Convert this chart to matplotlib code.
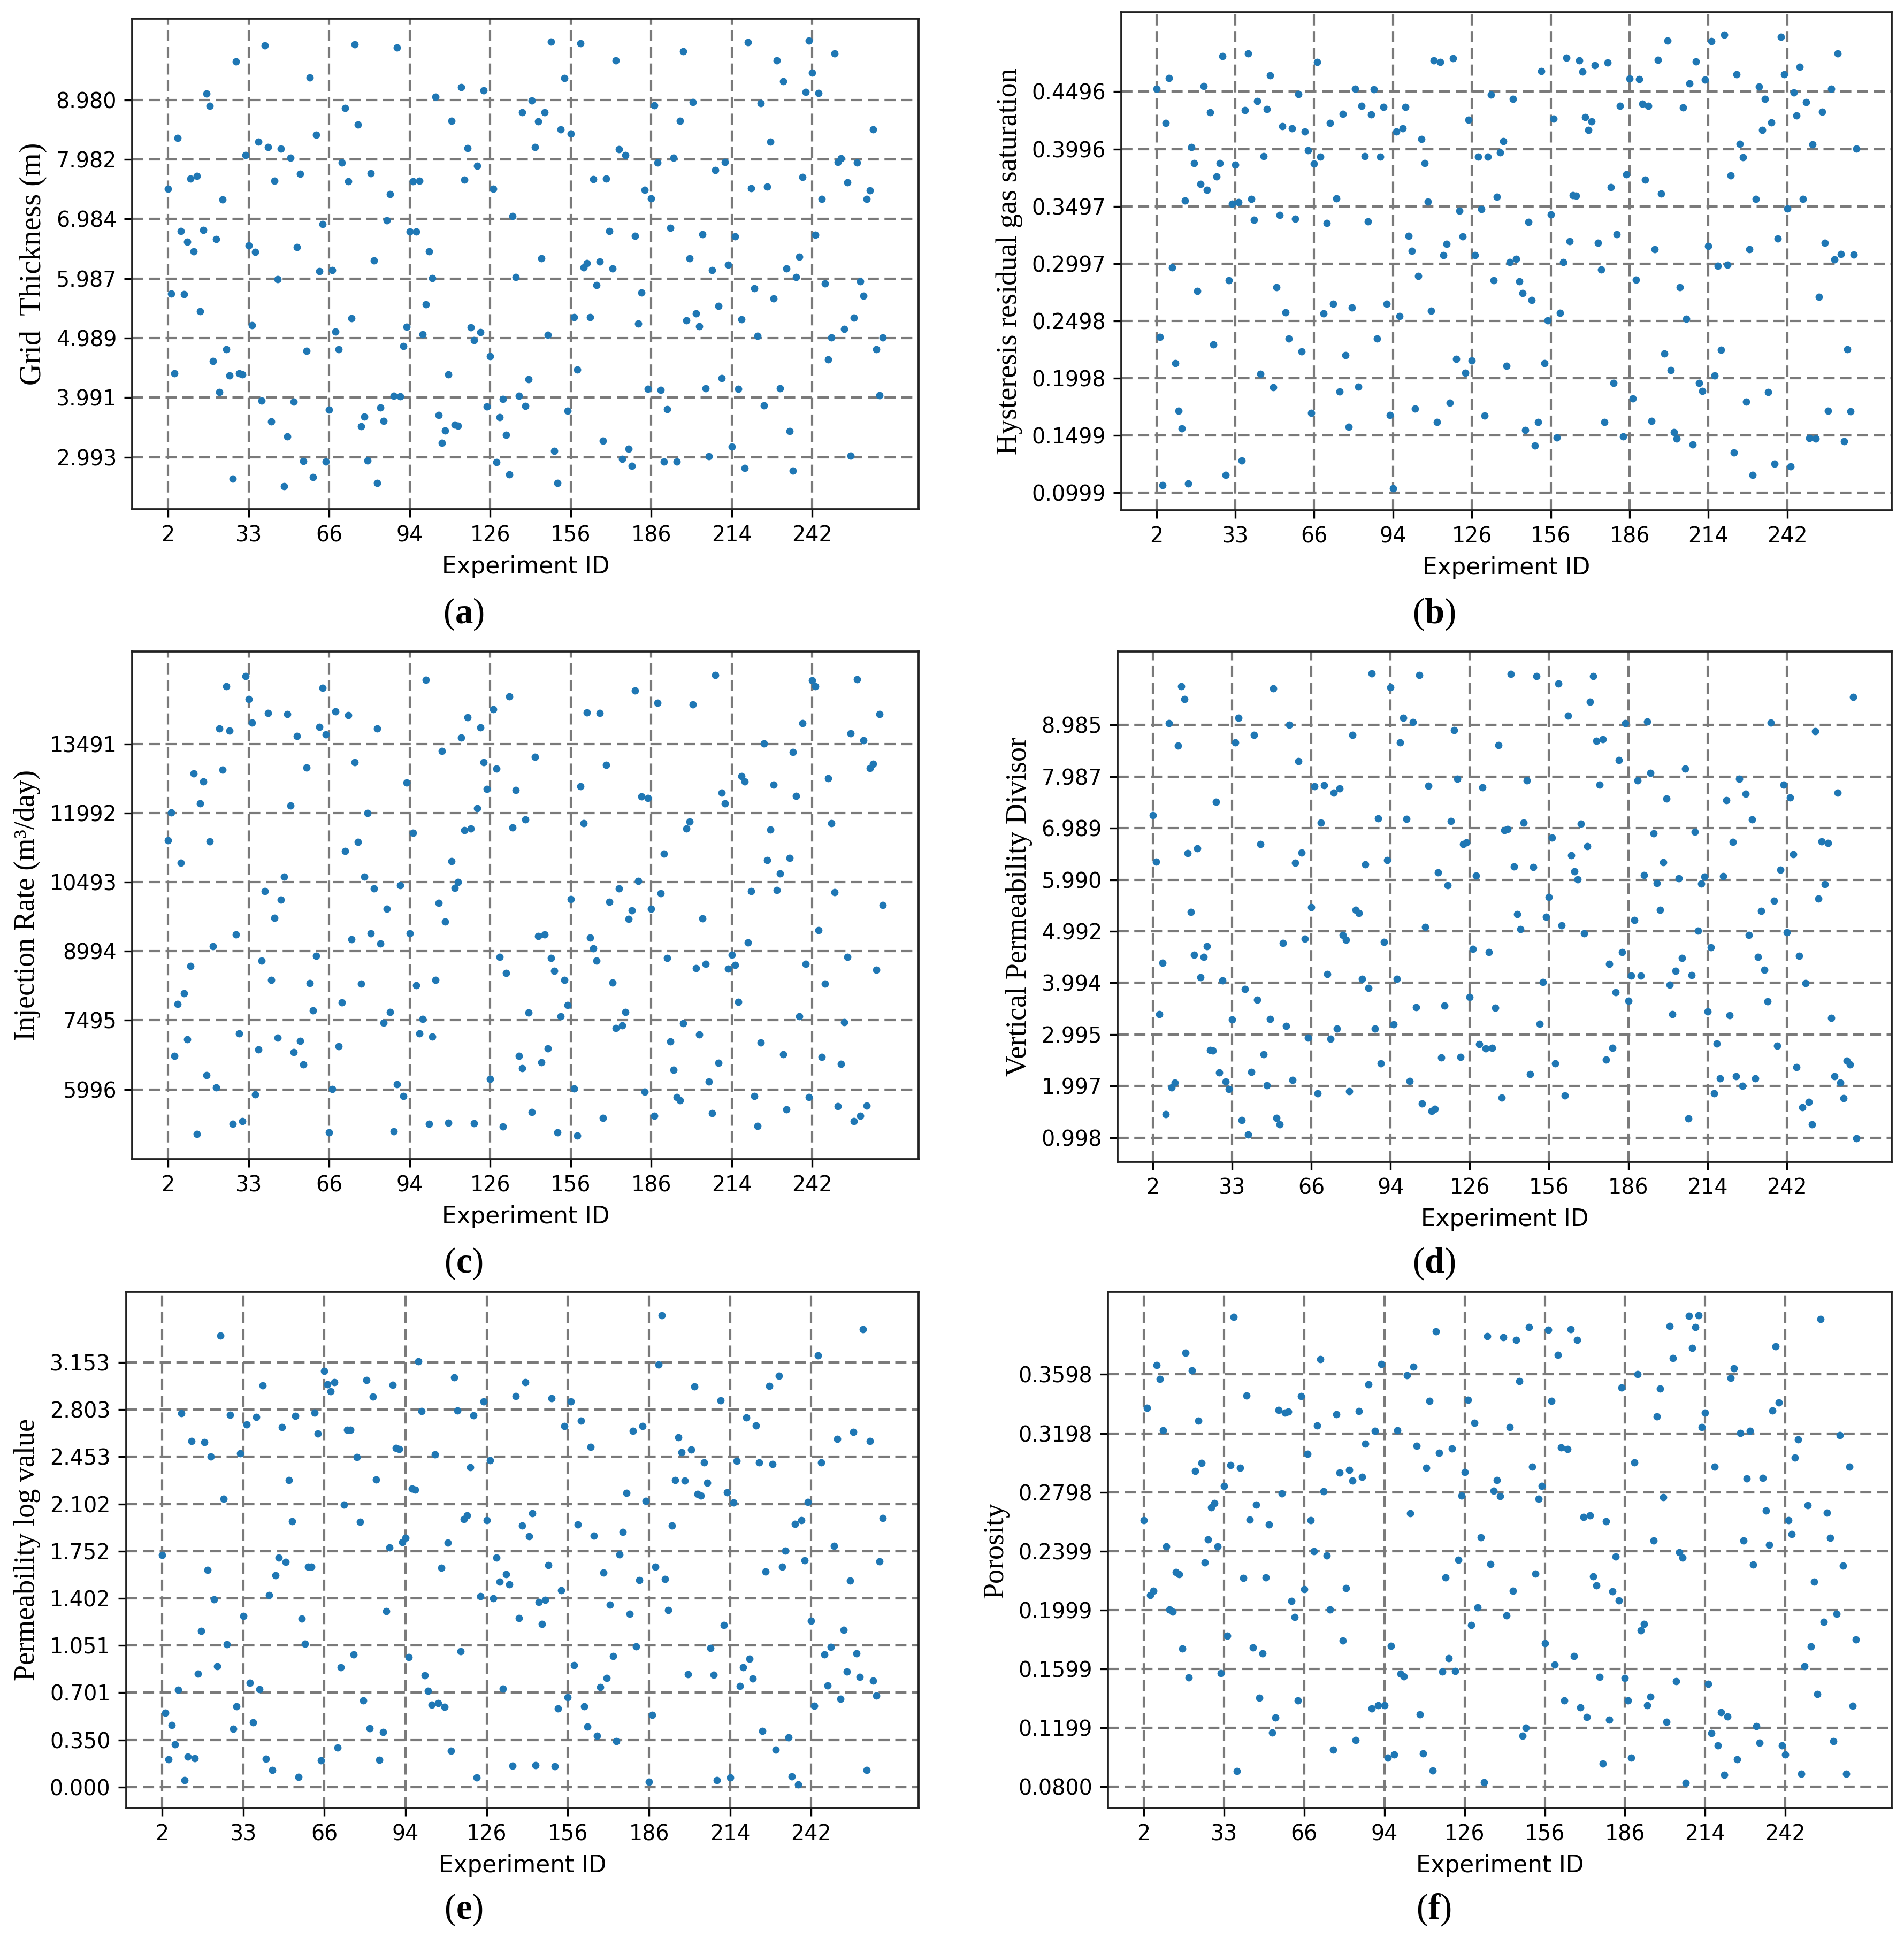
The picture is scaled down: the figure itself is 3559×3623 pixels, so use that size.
"""
Six scatter panels: sampled reservoir parameters per experiment (a)-(f).
Saved as out.png (3559 x 3623 px).
"""

import matplotlib
matplotlib.use("Agg")
import matplotlib.pyplot as plt
import numpy as np

# ---------------------------------------------------------------------------
# Data (one value per experiment, in plotting order)
# ---------------------------------------------------------------------------
xtick_labels = ["2", "33", "66", "94", "126", "156", "186", "214", "242"]

grid_thickness = [
    7.49, 5.73, 4.40, 8.34, 6.78, 5.72, 6.60, 7.66, 6.44, 7.70, 5.44, 6.80, 9.08, 8.88, 4.60, 6.65,
    4.08, 7.31, 4.80, 4.36, 2.63, 9.62, 4.40, 4.38, 8.05, 6.54, 5.20, 6.43, 8.28, 3.94, 9.89, 8.19,
    3.59, 7.62, 5.97, 8.16, 2.51, 3.34, 8.01, 3.92, 6.51, 7.74, 2.93, 4.77, 9.35, 2.66, 8.39, 6.11,
    6.90, 2.92, 3.79, 6.13, 5.10, 4.80, 7.93, 8.84, 7.61, 5.32, 9.91, 8.56, 3.51, 3.67, 2.94, 7.75,
    6.29, 2.56, 3.82, 3.60, 6.96, 7.40, 4.02, 9.85, 4.01, 4.85, 5.18, 6.77, 7.61, 6.77, 7.62, 5.05,
    5.55, 6.44, 5.99, 9.03, 3.70, 3.23, 3.44, 4.38, 8.63, 3.54, 3.52, 9.19, 7.64, 8.17, 5.17, 4.95,
    7.87, 5.09, 9.14, 3.84, 4.68, 7.49, 2.91, 3.66, 3.97, 3.37, 2.70, 7.03, 6.01, 4.02, 8.77, 3.85,
    4.30, 8.97, 8.19, 8.62, 6.32, 8.77, 5.04, 9.95, 3.10, 2.56, 8.48, 9.34, 3.77, 8.41, 5.34, 4.46,
    9.93, 6.17, 6.24, 5.34, 7.65, 5.88, 6.27, 3.27, 7.66, 6.78, 6.15, 9.64, 8.15, 2.96, 8.05, 3.13,
    2.85, 6.70, 5.23, 5.75, 7.47, 4.14, 7.33, 8.89, 7.93, 4.12, 2.92, 3.80, 6.83, 8.01, 2.92, 8.63,
    9.79, 5.28, 6.32, 8.94, 5.40, 5.19, 6.73, 4.15, 3.01, 6.13, 7.80, 5.53, 4.32, 7.94, 6.22, 3.17,
    6.69, 4.14, 5.30, 2.81, 9.94, 7.50, 5.82, 5.02, 8.92, 3.86, 7.52, 8.28, 5.65, 9.64, 4.15, 9.29,
    6.15, 3.43, 2.77, 6.01, 6.35, 7.69, 9.11, 9.97, 9.43, 6.72, 9.09, 7.32, 5.90, 4.63, 5.00, 9.76,
    7.94, 8.00, 5.14, 7.60, 3.02, 5.33, 7.93, 5.94, 5.70, 7.32, 7.46, 8.48, 4.80, 4.03, 5.00,
]

gas_saturation = [
    0.4521, 0.2356, 0.1067, 0.4224, 0.4613, 0.2963, 0.2127, 0.1713, 0.1559, 0.3548, 0.1078, 0.4012,
    0.3875, 0.2756, 0.3690, 0.4543, 0.3640, 0.4317, 0.2292, 0.3755, 0.3875, 0.4806, 0.1156, 0.2851,
    0.3520, 0.3858, 0.3531, 0.1279, 0.4334, 0.4831, 0.3562, 0.3377, 0.4412, 0.2034, 0.3934, 0.4345,
    0.4638, 0.1917, 0.2792, 0.3419, 0.4196, 0.2574, 0.2345, 0.4177, 0.3388, 0.4476, 0.2230, 0.4149,
    0.3984, 0.1693, 0.3866, 0.4753, 0.3928, 0.2563, 0.3352, 0.4224, 0.2647, 0.3567, 0.1883, 0.4300,
    0.2199, 0.1573, 0.2613, 0.4521, 0.1923, 0.4373, 0.3934, 0.3366, 0.4297, 0.4518, 0.2345, 0.3931,
    0.4364, 0.2647, 0.1676, 0.1039, 0.4149, 0.2541, 0.4174, 0.4364, 0.3237, 0.3108, 0.1732, 0.2887,
    0.4082, 0.3875, 0.3539, 0.2588, 0.4770, 0.1615, 0.4753, 0.3069, 0.3167, 0.1783, 0.4787, 0.2166,
    0.3458, 0.3232, 0.2043, 0.4252, 0.2152, 0.3069, 0.3928, 0.3472, 0.1671, 0.3928, 0.4468, 0.2851,
    0.3578, 0.3964, 0.4065, 0.2107, 0.3011, 0.4431, 0.3036, 0.2843, 0.2742, 0.1545, 0.3360, 0.2681,
    0.1411, 0.1615, 0.4675, 0.2127, 0.2504, 0.3425, 0.4258, 0.1481, 0.2566, 0.3011, 0.4792, 0.3190,
    0.3595, 0.3590, 0.4770, 0.4672, 0.4272, 0.4163, 0.4238, 0.4728, 0.3176, 0.2946, 0.1615, 0.4750,
    0.3665, 0.1956, 0.3251, 0.4370, 0.1489, 0.3774, 0.4608, 0.1819, 0.2857, 0.4605, 0.4392, 0.3727,
    0.4370, 0.1623, 0.3120, 0.4775, 0.3609, 0.2211, 0.4943, 0.2068, 0.1525, 0.1469, 0.2792, 0.4359,
    0.2518, 0.4566, 0.1422, 0.4759, 0.1956, 0.1886, 0.4599, 0.3148, 0.4935, 0.2020, 0.2977, 0.2244,
    0.4991, 0.2988, 0.3766, 0.1349, 0.4647, 0.4043, 0.3922, 0.1791, 0.3120, 0.1153, 0.3559, 0.4538,
    0.4163, 0.4434, 0.1878, 0.4227, 0.1254, 0.3215, 0.4974, 0.4647, 0.3478, 0.1229, 0.4490, 0.4286,
    0.4711, 0.3559, 0.4406, 0.1478, 0.4034, 0.1469, 0.2708, 0.4322, 0.3178, 0.1713, 0.4521, 0.3033,
    0.4831, 0.3080, 0.1447, 0.2250, 0.1710, 0.3075, 0.3998,
]

injection_rate = [
    11401, 12003, 6720, 7844, 10915, 8080, 7078, 8674, 12854, 5023, 12203, 12675, 6305, 11373, 9104,
    6040, 13821, 12933, 14744, 13778, 5253, 9361, 7214, 5310, 14959, 14458, 13957, 5890, 6863, 8789,
    10292, 14164, 8373, 9719, 7114, 10113, 10614, 14136, 12153, 6799, 13663, 7049, 6541, 12976, 8302,
    7708, 8896, 13864, 14708, 13692, 5066, 6004, 14200, 6935, 7887, 11172, 14121, 9254, 13091, 11365,
    8288, 10607, 11995, 9383, 10356, 13821, 9161, 7443, 9920, 7679, 5088, 6111, 10428, 5847, 12654,
    9376, 11559, 8252, 7207, 7522, 14887, 5245, 7142, 8366, 10041, 13341, 9633, 5267, 10943, 10363,
    10499, 13627, 11616, 14064, 11659, 5260, 12096, 13849, 13098, 12518, 6226, 14243, 12955, 8874,
    5188, 8517, 14522, 11680, 12496, 6720, 6455, 11852, 7658, 5503, 13205, 9318, 6584, 9361, 6885,
    8846, 8574, 5059, 7586, 8373, 7822, 10127, 6011, 4995, 12575, 11766, 14171, 9290, 9053, 8789,
    14164, 5374, 13040, 10070, 8309, 7328, 10356, 7386, 7672, 9690, 9884, 14644, 10521, 12346, 5940,
    12317, 9920, 5424, 14386, 10249, 11108, 8846, 7035, 6426, 5825, 5754, 7429, 11652, 11809, 14350,
    8624, 7192, 9705, 8717, 6162, 5482, 14987, 6570, 12432, 12203, 8610, 8917, 8696, 7894, 12790,
    12675, 9182, 10299, 5847, 5202, 7013, 13506, 10972, 11630, 12604, 10320, 10685, 6763, 5568, 11015,
    13312, 12360, 7586, 13942, 8717, 5832, 14866, 14737, 9447, 6705, 8288, 12747, 11773, 10270, 5632,
    6548, 7457, 8867, 13720, 5303, 14894, 5424, 13570, 5639, 12969, 13055, 8588, 14143, 9991,
]

perm_divisor = [
    7.24, 6.34, 3.39, 4.38, 1.45, 9.02, 1.97, 2.06, 8.58, 9.73, 9.49, 6.50, 5.36, 4.54, 6.60, 4.10,
    4.49, 4.70, 2.69, 2.68, 7.50, 2.26, 4.04, 2.08, 1.94, 3.28, 8.65, 9.12, 1.34, 3.87, 1.06, 2.27,
    8.79, 3.67, 6.68, 2.61, 2.01, 3.29, 9.69, 1.38, 1.25, 4.76, 3.16, 8.99, 2.11, 6.32, 8.28, 6.51,
    4.85, 2.93, 5.46, 7.80, 1.85, 7.09, 7.82, 4.16, 2.91, 7.67, 3.11, 7.76, 4.92, 4.83, 1.90, 8.79,
    5.41, 5.34, 4.07, 6.29, 3.89, 9.98, 3.11, 7.18, 2.43, 4.79, 6.37, 9.71, 3.19, 4.07, 8.65, 9.12,
    7.17, 2.09, 9.04, 3.52, 9.95, 1.66, 5.07, 7.81, 1.51, 1.56, 6.13, 2.55, 3.55, 5.88, 7.12, 8.88,
    7.94, 2.56, 6.68, 6.71, 3.72, 4.65, 6.07, 2.81, 7.78, 2.72, 4.59, 2.74, 3.51, 8.59, 1.77, 6.95,
    6.97, 9.97, 6.25, 5.32, 5.03, 7.09, 7.91, 2.23, 6.23, 9.93, 3.20, 4.01, 5.27, 5.65, 6.80, 2.43,
    9.79, 5.11, 1.81, 9.16, 6.46, 6.15, 6.00, 7.07, 4.95, 6.64, 9.43, 9.93, 8.68, 7.83, 8.71, 2.51,
    4.36, 2.73, 3.81, 8.30, 4.59, 9.02, 3.65, 4.13, 5.21, 7.91, 4.13, 6.08, 9.05, 8.06, 6.89, 5.92,
    5.41, 6.33, 7.56, 3.96, 3.39, 4.23, 6.02, 4.47, 8.14, 1.37, 4.14, 6.92, 5.00, 5.91, 6.05, 3.44,
    4.68, 1.86, 2.82, 2.15, 6.06, 7.53, 3.37, 6.72, 2.19, 7.94, 2.00, 7.65, 4.92, 7.16, 2.15, 4.49,
    5.39, 4.25, 3.64, 9.03, 5.58, 2.78, 6.18, 7.83, 4.97, 7.58, 6.48, 2.36, 4.52, 1.59, 3.99, 1.69,
    1.25, 8.86, 5.62, 6.73, 5.90, 6.70, 3.32, 2.19, 7.67, 2.06, 1.76, 2.49, 2.41, 9.53, 0.99,
]

perm_log = [
    1.724, 0.552, 0.206, 0.459, 0.319, 0.723, 2.776, 0.050, 0.228, 2.570, 0.213, 0.841, 1.160, 2.560,
    1.611, 2.452, 1.393, 0.896, 3.351, 2.139, 1.059, 2.764, 0.432, 0.600, 2.477, 1.270, 2.691, 0.773,
    0.479, 2.746, 0.725, 2.984, 0.211, 1.426, 0.126, 1.571, 1.704, 2.673, 1.672, 2.279, 1.975, 2.756,
    0.075, 1.252, 1.064, 1.637, 1.634, 2.779, 2.623, 0.198, 3.090, 2.989, 2.937, 3.007, 0.294, 0.891,
    2.098, 2.651, 2.651, 0.986, 2.450, 1.968, 0.643, 3.022, 0.437, 2.899, 2.284, 0.201, 0.407, 1.308,
    1.777, 2.987, 2.518, 2.510, 1.817, 1.852, 0.964, 2.214, 2.209, 3.160, 2.791, 0.828, 0.715, 0.612,
    2.470, 0.622, 1.629, 0.597, 1.815, 0.269, 3.042, 2.794, 1.007, 1.990, 2.016, 2.374, 2.761, 0.070,
    1.418, 2.864, 1.980, 2.425, 1.401, 1.702, 1.526, 0.730, 1.579, 1.503, 0.158, 2.904, 1.255, 1.943,
    3.007, 1.862, 2.033, 0.163, 1.375, 1.210, 1.391, 1.649, 2.887, 0.153, 0.585, 1.463, 2.681, 0.668,
    2.864, 0.906, 1.950, 2.721, 0.600, 0.449, 2.525, 1.865, 0.382, 0.743, 1.591, 0.808, 1.353, 0.971,
    0.341, 1.727, 1.895, 2.184, 1.288, 2.646, 1.044, 1.536, 2.681, 2.123, 0.038, 0.537, 1.634, 3.138,
    3.501, 1.544, 1.315, 1.943, 2.279, 2.598, 2.485, 2.277, 0.838, 2.505, 2.974, 2.174, 2.166, 2.410,
    2.259, 1.032, 0.833, 0.050, 2.869, 1.205, 2.189, 0.073, 2.111, 2.422, 0.750, 0.891, 2.743, 0.951,
    0.806, 2.683, 2.412, 0.417, 1.601, 2.979, 2.400, 0.279, 3.055, 1.634, 1.754, 0.371, 0.080, 1.953,
    0.018, 1.983, 1.684, 2.118, 1.235, 0.605, 3.205, 2.410, 0.986, 0.756, 1.042, 1.792, 2.585, 0.655,
    1.167, 0.858, 1.531, 2.638, 0.994, 0.816, 3.399, 0.126, 2.568, 0.791, 0.680, 1.674, 1.998,
]

porosity = [
    0.2609, 0.3372, 0.2100, 0.2129, 0.3661, 0.3567, 0.3218, 0.2430, 0.2003, 0.1987, 0.2256, 0.2242,
    0.1737, 0.3746, 0.1539, 0.3624, 0.2942, 0.3284, 0.2997, 0.2320, 0.2476, 0.2694, 0.2724, 0.2430,
    0.1571, 0.2839, 0.1822, 0.2981, 0.3987, 0.0906, 0.2965, 0.2214, 0.3454, 0.2612, 0.1744, 0.2715,
    0.1402, 0.1705, 0.2221, 0.2579, 0.1167, 0.1268, 0.3358, 0.2788, 0.3337, 0.3346, 0.2060, 0.1950,
    0.1383, 0.3452, 0.2139, 0.3057, 0.2609, 0.2396, 0.3250, 0.3702, 0.2804, 0.2368, 0.2003, 0.1050,
    0.3326, 0.2931, 0.1790, 0.2145, 0.2951, 0.2878, 0.1115, 0.3349, 0.2901, 0.3128, 0.3532, 0.1330,
    0.3213, 0.1353, 0.3668, 0.1351, 0.0997, 0.1755, 0.1016, 0.3218, 0.1565, 0.1549, 0.3592, 0.2657,
    0.3652, 0.3114, 0.1289, 0.1023, 0.2963, 0.3417, 0.0908, 0.3890, 0.3064, 0.1581, 0.2219, 0.1670,
    0.3096, 0.1585, 0.2341, 0.2775, 0.2935, 0.3427, 0.1895, 0.3268, 0.2015, 0.2492, 0.0830, 0.3856,
    0.2311, 0.2807, 0.2880, 0.2770, 0.3849, 0.1962, 0.3241, 0.2129, 0.3833, 0.3551, 0.1144, 0.1200,
    0.3918, 0.2970, 0.2244, 0.2754, 0.2839, 0.1774, 0.3900, 0.3417, 0.1629, 0.3732, 0.3101, 0.1385,
    0.3091, 0.3906, 0.1684, 0.3833, 0.1335, 0.2630, 0.1271, 0.2641, 0.2226, 0.2164, 0.1544, 0.0954,
    0.2600, 0.1255, 0.2125, 0.2361, 0.2063, 0.3509, 0.1537, 0.1385, 0.0995, 0.3000, 0.3601, 0.1861,
    0.1902, 0.1353, 0.1411, 0.2471, 0.3314, 0.3500, 0.2763, 0.1239, 0.3925, 0.3709, 0.1516, 0.2391,
    0.2354, 0.0823, 0.3994, 0.3778, 0.3918, 0.3998, 0.3241, 0.3339, 0.1496, 0.1163, 0.2972, 0.1078,
    0.1305, 0.0880, 0.1275, 0.3574, 0.3640, 0.0986, 0.3199, 0.2471, 0.2892, 0.3215, 0.2306, 0.1211,
    0.1096, 0.2896, 0.2674, 0.2442, 0.3351, 0.3787, 0.3406, 0.1078, 0.1018, 0.2607, 0.2515, 0.3034,
    0.3158, 0.0885, 0.1617, 0.2708, 0.1751, 0.2191, 0.1427, 0.3975, 0.1918, 0.2660, 0.2488, 0.1108,
    0.1971, 0.3186, 0.2299, 0.0887, 0.2970, 0.1346, 0.1799,
]

ytick_a = ["2.993", "3.991", "4.989", "5.987", "6.984", "7.982", "8.980"]
ytick_b = ["0.0999", "0.1499", "0.1998", "0.2498", "0.2997", "0.3497", "0.3996", "0.4496"]
ytick_c = ["5996", "7495", "8994", "10493", "11992", "13491"]
ytick_d = ["0.998", "1.997", "2.995", "3.994", "4.992", "5.990", "6.989", "7.987", "8.985"]
ytick_e = ["0.000", "0.350", "0.701", "1.051", "1.402", "1.752", "2.102", "2.453", "2.803", "3.153"]
ytick_f = ["0.0800", "0.1199", "0.1599", "0.1999", "0.2399", "0.2798", "0.3198", "0.3598"]

# ---------------------------------------------------------------------------
# Style defaults
# ---------------------------------------------------------------------------
_DPI = 300
_FIGSIZE = (3559 / _DPI, 3623 / _DPI)
_DOT_KW = dict(s=11, color="#1f77b4", linewidths=0, zorder=3)
_GRID_KW = dict(color="#7a7a7a", linestyle=(0, (5, 2.5)), linewidth=1.0)
_SERIF = "Liberation Serif"

plt.rcParams["font.family"] = "DejaVu Sans"
plt.rcParams["mathtext.fontset"] = "custom"
plt.rcParams["mathtext.rm"] = _SERIF
plt.rcParams["mathtext.bf"] = _SERIF + ":bold"


def _scatter_panel(fig, rect, values, ylabel, yticks, ylim, tag, tag_xy, ylabel_size=13):
    ax = fig.add_axes(rect)
    x = np.arange(len(values))
    ax.scatter(x, values, **_DOT_KW)

    ax.set_xticks(np.arange(0, 201, 25))
    ax.set_xticklabels(xtick_labels)
    ax.set_yticks([float(t) for t in yticks])
    ax.set_yticklabels(yticks)
    ax.set_ylim(*ylim)
    ax.set_xlim(-11.1, 233.1)

    ax.grid(True, **_GRID_KW)
    ax.set_axisbelow(True)
    ax.tick_params(labelsize=9.5, length=3.5, width=0.8)
    for spine in ax.spines.values():
        spine.set_linewidth(0.9)
        spine.set_color("#222222")

    ax.set_xlabel("Experiment ID", fontsize=10.5)
    ax.set_ylabel(ylabel, fontsize=ylabel_size, family=_SERIF)
    fig.text(tag_xy[0], tag_xy[1], "(" + r"$\mathbf{" + tag + "}$" + ")",
             fontsize=16, family=_SERIF, ha="center", va="center")
    return ax


fig = plt.figure(figsize=_FIGSIZE, dpi=_DPI)

_scatter_panel(fig, [0.0695, 0.7372, 0.4130, 0.2532], grid_thickness,
               "Grid  Thickness (m)", ytick_a, (2.12, 10.34), "a", (0.2435, 0.683),
               ylabel_size=13.5)
_scatter_panel(fig, [0.589, 0.7366, 0.4045, 0.2570], gas_saturation,
               "Hysteresis residual gas saturation", ytick_b, (0.0845, 0.5187), "b", (0.753, 0.683))
_scatter_panel(fig, [0.0695, 0.4018, 0.4130, 0.2621], injection_rate,
               "Injection Rate (m³/day)", ytick_c, (4480, 15500), "c", (0.2435, 0.348))
_scatter_panel(fig, [0.587, 0.4005, 0.4065, 0.2634], perm_divisor,
               "Vertical Permeability Divisor", ytick_d, (0.53, 10.41), "d", (0.753, 0.348))
_scatter_panel(fig, [0.0662, 0.0670, 0.4163, 0.2665], perm_log,
               "Permeability log value", ytick_e, (-0.156, 3.678), "e", (0.2435, 0.0147))
_scatter_panel(fig, [0.582, 0.0670, 0.4115, 0.2665], porosity,
               "Porosity", ytick_f, (0.0653, 0.416), "f", (0.753, 0.0147))

fig.savefig("out.png", dpi=_DPI)
plt.close(fig)
